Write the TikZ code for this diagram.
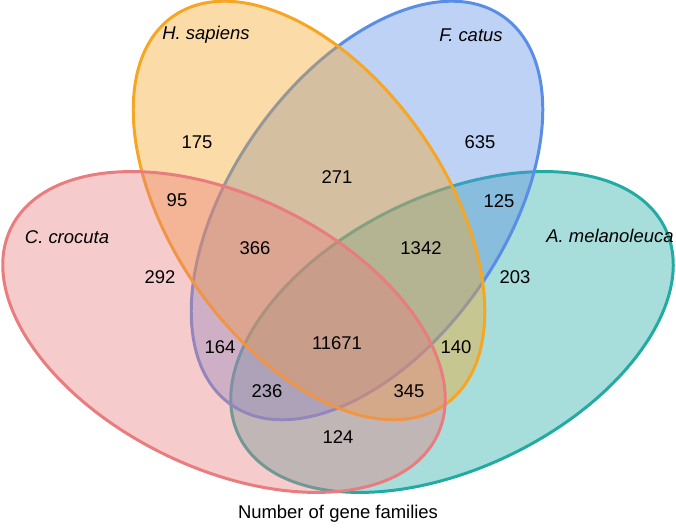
\documentclass[tikz,border=0pt]{standalone}
\usepackage{fontspec}
\setmainfont{Liberation Sans}
\usepackage{tikz}

\definecolor{crocuta}{RGB}{232,124,126}
\definecolor{sapiens}{RGB}{246,166,35}
\definecolor{catus}{RGB}{90,142,230}
\definecolor{melano}{RGB}{34,171,163}

\begin{document}
\begin{tikzpicture}[every node/.style={inner sep=1pt, font=\fontsize{10.5}{12.5}\selectfont},
  venn/.style={line width=1.7pt, fill opacity=0.4},
  species/.style={font=\fontsize{10.5}{12.5}\selectfont\itshape}]

\useasboundingbox (0,0) rectangle (13.52,10.54);

\draw[venn, draw=melano, fill=melano] (9.04,3.90) ellipse [x radius=4.74cm, y radius=2.72cm, rotate=26];
\draw[venn, draw=catus, fill=catus] (7.34,6.33) ellipse [x radius=4.74cm, y radius=2.72cm, rotate=55];
\draw[venn, draw=sapiens, fill=sapiens] (6.18,6.33) ellipse [x radius=4.74cm, y radius=2.72cm, rotate=-55];
\draw[venn, draw=crocuta, fill=crocuta] (4.48,3.90) ellipse [x radius=4.74cm, y radius=2.72cm, rotate=-26];

% set names
\node[species] (hs) at (4.12,9.84) {H. sapiens};
\node[species] (fc) at (9.42,9.84) {F. catus};
\node[species] (cc) at (1.34,5.80) {C. crocuta};
\node[species] (am) at (12.20,5.82) {A. melanoleuca};

% counts
\node (n175) at (3.94,7.70) {175};
\node (n271) at (6.74,7.00) {271};
\node (n635) at (9.60,7.70) {635};
\node (n95) at (3.54,6.54) {95};
\node (n125) at (9.98,6.52) {125};
\node (n366) at (5.10,5.58) {366};
\node (n1342) at (8.42,5.58) {1342};
\node (n292) at (3.20,5.00) {292};
\node (n203) at (10.30,5.00) {203};
\node (n164) at (4.40,3.60) {164};
\node (n11671) at (6.74,3.68) {11671};
\node (n140) at (9.12,3.60) {140};
\node (n236) at (5.34,2.72) {236};
\node (n345) at (8.18,2.72) {345};
\node (n124) at (6.76,1.80) {124};

\node (caption) at (6.76,0.26) {Number of gene families};
\end{tikzpicture}
\end{document}
